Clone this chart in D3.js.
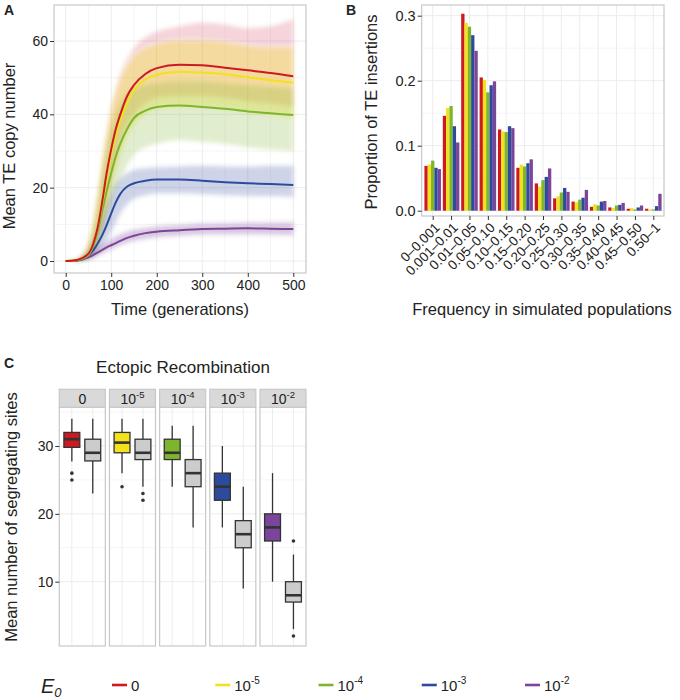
<!DOCTYPE html>
<html><head><meta charset="utf-8">
<script src="https://cdn.jsdelivr.net/npm/d3@7"></script>
<style>
body{margin:0;background:#fff}
text{font-family:"Liberation Sans",Arial,Helvetica,sans-serif;fill:#222}
</style>
</head><body>
<svg id="chart" width="680" height="700"></svg>
<script>
// ---------------- DATA ----------------
const e0Exponents = [null, -5, -4, -3, -2];          // E0 = 0, 10^-5, 10^-4, 10^-3, 10^-2
const e0Colors = ["#cc1a1f", "#f2e21b", "#7db52d", "#2d4b9d", "#7b459c"];

// Panel A: mean TE copy number vs time
const timePts = [0,25,50,60,70,80,90,100,110,120,135,150,175,200,250,300,350,400,450,500];
const meanE0_0  = [0,0.3,2,4.5,9,16,24,30.5,36,40,45,48,51,52.6,53.5,53.4,52.7,52,51.3,50.4];
const hiE0_0    = [0,0.6,5,10,18,27,35,42,47,51,55,58,61,62.5,64,65,64.5,63.5,64,66];
const loE0_0    = [0,0.05,0.8,2,4.5,9,15,21,27,32,37,40,43,44.5,45,45,44.5,43.5,43,42];
const meanE0_5  = [0,0.3,2,4.5,9,15.5,23,29.5,34.5,38.5,43,46.5,49.5,50.8,51.6,51.4,50.9,50.1,49.3,48.6];
const hiE0_5    = [0,0.6,5,10,18,27,35,41,46,49.5,53,55.5,58,59,60,60,59.5,58.5,58,58];
const loE0_5    = [0,0.05,0.8,2,4.5,9,14,20,25,29,34,37,40,41.5,42,42,41.5,40.5,40,39];
const meanE0_4  = [0,0.2,1.5,4,8,13.5,19,24,28.5,32,36,39,41,42,42.4,42,41.5,40.8,40.3,39.8];
const hiE0_4    = [0,0.5,4,9,16,24,31,36,40,43,45.5,47,48,48.5,49,49,48.5,48,47.5,47];
const loE0_4    = [0,0.05,0.6,1.5,3.5,7,11,15,19,22,26,29,31,32,33,32.5,32,31,30.5,30];
const meanE0_3  = [0,0.2,1.5,2.8,4.7,7,9.8,13,16,18.3,20.3,21.2,21.9,22.2,22.2,21.9,21.5,21.2,21,20.7];
const hiE0_3    = [0,0.4,3,5.5,8.5,12,15.5,18.5,21,22.5,24,24.8,25.3,25.5,25.8,26,25.8,25.7,26,26];
const loE0_3    = [0,0.05,0.5,1,2,3.5,5.5,8,10.5,13,15.5,17,18,18.5,18.5,18.3,18,17.8,17.7,17.5];
const meanE0_2  = [0,0.1,1,1.6,2.3,3,3.7,4.3,4.9,5.5,6.3,6.9,7.6,8,8.4,8.7,8.8,8.9,8.8,8.7];
const hiE0_2    = [0,0.3,1.8,2.6,3.4,4.3,5.2,6,6.7,7.3,8,8.5,9,9.4,9.8,10.2,10.3,10.4,10.5,10.6];
const loE0_2    = [0,0.02,0.5,0.9,1.4,2,2.6,3.2,3.8,4.3,5,5.5,6.1,6.5,6.9,7.2,7.3,7.3,7.2,7];
const meanSeries = [meanE0_0, meanE0_5, meanE0_4, meanE0_3, meanE0_2];
const hiSeries   = [hiE0_0, hiE0_5, hiE0_4, hiE0_3, hiE0_2];
const loSeries   = [loE0_0, loE0_5, loE0_4, loE0_3, loE0_2];
const timeTicks = [0,100,200,300,400,500];
const copyTicks = [0,20,40,60];

// Panel B: proportion of TE insertions per frequency class
const freqCats = ["0–0.001","0.001–0.01","0.01–0.05","0.05–0.10","0.10–0.15","0.15–0.20","0.20–0.25","0.25–0.30","0.30–0.35","0.35–0.40","0.40–0.45","0.45–0.50","0.50–1"];
const propE0_0 = [0.069,0.146,0.303,0.205,0.125,0.066,0.042,0.019,0.014,0.006,0.005,0.003,0.003];
const propE0_5 = [0.071,0.158,0.289,0.201,0.122,0.071,0.037,0.022,0.013,0.010,0.004,0.004,0.002];
const propE0_4 = [0.077,0.161,0.283,0.182,0.121,0.068,0.047,0.028,0.017,0.008,0.008,0.002,0.002];
const propE0_3 = [0.066,0.130,0.270,0.193,0.130,0.073,0.052,0.035,0.020,0.014,0.009,0.005,0.007];
const propE0_2 = [0.064,0.105,0.246,0.199,0.127,0.079,0.065,0.029,0.032,0.015,0.012,0.008,0.026];
const propSeries = [propE0_0, propE0_5, propE0_4, propE0_3, propE0_2];
const propTicks = [0, 0.1, 0.2, 0.3];

// Panel C: boxplots of mean number of segregating sites (coloured = E0 model, grey = comparison)
const colWhiskLo = [27.7, 26, 24, 18, 10];
const colQ1      = [29.8, 29, 28, 22, 16];
const colMedian  = [31, 30.5, 29, 24, 18];
const colQ3      = [32, 32, 31, 26, 20];
const colWhiskHi = [34, 34, 33, 30, 26];
const colOutliers = [[26, 25], [24], [], [], []];
const greyWhiskLo = [23, 24, 18, 9, 3];
const greyQ1      = [27.8, 28, 24, 15, 7];
const greyMedian  = [29, 29, 26, 17, 8];
const greyQ3      = [31, 31, 28, 19, 10];
const greyWhiskHi = [34, 34, 33, 24, 14];
const greyOutliers = [[], [23, 22], [], [], [16, 2]];
const segTicks = [10, 20, 30];

// ---------------- DRAWING ----------------
const svg = d3.select("#chart");
const frameCol = "#c8c8c8", gridMaj = "#ececec", gridMin = "#f5f5f5", tickCol = "#333";

const defs = svg.append("defs");
defs.append("filter").attr("id", "soft").attr("x", "-5%").attr("y", "-5%").attr("width", "110%").attr("height", "110%")
  .append("feGaussianBlur").attr("stdDeviation", 2.2);

function supLabel(sel, exp, baseSize, supSize, dySup) {
  if (exp === null) { sel.text("0"); return; }
  sel.append("tspan").text("10");
  sel.append("tspan").attr("font-size", supSize).attr("dy", dySup).text(String(exp));
}

function styleAxis(g, size) {
  g.select(".domain").remove();
  g.selectAll(".tick line").attr("stroke", tickCol).attr("stroke-width", 1);
  g.selectAll(".tick text").attr("font-size", size).attr("fill", "#333")
    .attr("font-family", '"Liberation Sans",Arial,sans-serif');
}

// ---- Panel A ----
const fA = {x0: 54, x1: 306, y0: 5, y1: 273};
const xA = d3.scaleLinear().domain([0, 500]).range([65.7, 293.3]);
const yA = d3.scaleLinear().domain([0, 60]).range([261, 41]);
const gA = svg.append("g");
[50,150,250,350,450].forEach(v => gA.append("line").attr("x1", xA(v)).attr("x2", xA(v)).attr("y1", fA.y0).attr("y2", fA.y1).attr("stroke", gridMin));
[10,30,50].forEach(v => gA.append("line").attr("y1", yA(v)).attr("y2", yA(v)).attr("x1", fA.x0).attr("x2", fA.x1).attr("stroke", gridMin));
timeTicks.forEach(v => gA.append("line").attr("x1", xA(v)).attr("x2", xA(v)).attr("y1", fA.y0).attr("y2", fA.y1).attr("stroke", gridMaj));
copyTicks.forEach(v => gA.append("line").attr("y1", yA(v)).attr("y2", yA(v)).attr("x1", fA.x0).attr("x2", fA.x1).attr("stroke", gridMaj));

const clipA = defs.append("clipPath").attr("id", "clipA");
clipA.append("rect").attr("x", fA.x0).attr("y", fA.y0).attr("width", fA.x1 - fA.x0).attr("height", fA.y1 - fA.y0);
const bandG = gA.append("g").attr("clip-path", "url(#clipA)").append("g").attr("filter", "url(#soft)");
const areaA = d3.area().x((d, i) => xA(timePts[i])).y0(d => yA(d[0])).y1(d => yA(d[1])).curve(d3.curveMonotoneX);
const bandOpacity = [0.17, 0.3, 0.24, 0.24, 0.3];
[0,1,2,3,4].forEach(k => {
  const pts = loSeries[k].map((lo, i) => [lo, hiSeries[k][i]]);
  bandG.append("path").attr("d", areaA(pts)).attr("fill", e0Colors[k]).attr("fill-opacity", bandOpacity[k]);
});
const lineA = d3.line().x((d, i) => xA(timePts[i])).y(d => yA(d)).curve(d3.curveMonotoneX);
[4,3,2,1,0].forEach(k => {
  gA.append("path").attr("d", lineA(meanSeries[k])).attr("fill", "none")
    .attr("stroke", e0Colors[k]).attr("stroke-width", 2);
});
gA.append("rect").attr("x", fA.x0).attr("y", fA.y0).attr("width", fA.x1 - fA.x0).attr("height", fA.y1 - fA.y0)
  .attr("fill", "none").attr("stroke", frameCol).attr("stroke-width", 1.2);
const axA_y = gA.append("g").attr("transform", `translate(${fA.x0},0)`)
  .call(d3.axisLeft(yA).tickValues(copyTicks).tickSize(4).tickPadding(2));
styleAxis(axA_y, 14);
const axA_x = gA.append("g").attr("transform", `translate(0,${fA.y1})`)
  .call(d3.axisBottom(xA).tickValues(timeTicks).tickSize(4).tickPadding(3));
styleAxis(axA_x, 14);
gA.append("text").attr("x", 180).attr("y", 315).attr("text-anchor", "middle").attr("font-size", 16.5).text("Time (generations)");
gA.append("text").attr("transform", "translate(15,146) rotate(-90)").attr("text-anchor", "middle").attr("font-size", 16.5).text("Mean TE copy number");
gA.append("text").attr("x", 4).attr("y", 14.5).attr("font-size", 14).attr("font-weight", "bold").text("A");

// ---- Panel B ----
const fB = {x0: 421.7, x1: 664, y0: 5, y1: 216};
const xB = d3.scalePoint().domain(freqCats).range([432.7, 653.3]);
const stepB = xB.step();
const innerB = d3.scaleBand().domain([0,1,2,3,4]).range([-0.45 * stepB, 0.45 * stepB]);
const yB = d3.scaleLinear().domain([0, 0.3]).range([210.7, 15.7]);
const gB = svg.append("g");
[0.05, 0.15, 0.25].forEach(v => gB.append("line").attr("y1", yB(v)).attr("y2", yB(v)).attr("x1", fB.x0).attr("x2", fB.x1).attr("stroke", gridMin));
propTicks.forEach(v => gB.append("line").attr("y1", yB(v)).attr("y2", yB(v)).attr("x1", fB.x0).attr("x2", fB.x1).attr("stroke", gridMaj));
freqCats.forEach(c => gB.append("line").attr("x1", xB(c)).attr("x2", xB(c)).attr("y1", fB.y0).attr("y2", fB.y1).attr("stroke", gridMaj));
propSeries.forEach((ser, k) => {
  gB.selectAll(null).data(ser).enter().append("rect")
    .attr("x", (d, i) => xB(freqCats[i]) + innerB(k))
    .attr("y", d => yB(d))
    .attr("width", innerB.bandwidth())
    .attr("height", d => yB(0) - yB(d))
    .attr("fill", e0Colors[k]);
});
gB.append("rect").attr("x", fB.x0).attr("y", fB.y0).attr("width", fB.x1 - fB.x0).attr("height", fB.y1 - fB.y0)
  .attr("fill", "none").attr("stroke", frameCol).attr("stroke-width", 1.2);
const axB_y = gB.append("g").attr("transform", `translate(${fB.x0},0)`)
  .call(d3.axisLeft(yB).tickValues(propTicks).tickFormat(d3.format(".1f")).tickSize(4).tickPadding(2));
styleAxis(axB_y, 14.5);
const axB_x = gB.append("g").attr("transform", `translate(0,${fB.y1})`)
  .call(d3.axisBottom(xB).tickSize(4).tickPadding(3));
styleAxis(axB_x, 13.5);
axB_x.selectAll(".tick text").attr("text-anchor", "end").attr("y", 0).attr("dy", "0.35em")
  .attr("transform", "translate(4,9) rotate(-45)");
gB.append("text").attr("x", 542).attr("y", 315).attr("text-anchor", "middle").attr("font-size", 16.5).text("Frequency in simulated populations");
gB.append("text").attr("transform", "translate(377,112) rotate(-90)").attr("text-anchor", "middle").attr("font-size", 16.5).text("Proportion of TE insertions");
gB.append("text").attr("x", 346).attr("y", 14.5).attr("font-size", 14).attr("font-weight", "bold").text("B");

// ---- Panel C ----
const gC = svg.append("g");
const facet = d3.scaleBand().domain([0,1,2,3,4]).range([59.3, 306]).paddingInner(0.0827).paddingOuter(0);
const fw = facet.bandwidth();
const inner = d3.scalePoint().domain(["E", "N"]).range([0, fw]).padding(0.6);
const boxW = 0.76 * inner.step();
const yC = d3.scaleLinear().domain([10, 30]).range([581.7, 446]);
const stripY0 = 389.3, stripY1 = 407.3, panelY1 = 646;
gC.append("text").attr("x", 183).attr("y", 373).attr("text-anchor", "middle").attr("font-size", 17).text("Ectopic Recombination");
gC.append("text").attr("x", 4).attr("y", 368).attr("font-size", 14).attr("font-weight", "bold").text("C");
gC.append("text").attr("transform", "translate(17,517) rotate(-90)").attr("text-anchor", "middle").attr("font-size", 16.5).text("Mean number of segregating sites");

function drawBox(g, cx, lo, q1, med, q3, hi, outs, fill) {
  g.append("line").attr("x1", cx).attr("x2", cx).attr("y1", yC(hi)).attr("y2", yC(q3)).attr("stroke", tickCol).attr("stroke-width", 1.3);
  g.append("line").attr("x1", cx).attr("x2", cx).attr("y1", yC(q1)).attr("y2", yC(lo)).attr("stroke", tickCol).attr("stroke-width", 1.3);
  g.append("rect").attr("x", cx - boxW / 2).attr("y", yC(q3)).attr("width", boxW).attr("height", yC(q1) - yC(q3))
    .attr("fill", fill).attr("stroke", tickCol).attr("stroke-width", 1.3);
  g.append("line").attr("x1", cx - boxW / 2).attr("x2", cx + boxW / 2).attr("y1", yC(med)).attr("y2", yC(med))
    .attr("stroke", tickCol).attr("stroke-width", 2.6);
  outs.forEach(o => g.append("circle").attr("cx", cx).attr("cy", yC(o)).attr("r", 1.8).attr("fill", tickCol));
}

[0,1,2,3,4].forEach(k => {
  const x0 = facet(k);
  const gp = gC.append("g");
  [15, 25, 35].forEach(v => gp.append("line").attr("x1", x0).attr("x2", x0 + fw).attr("y1", yC(v)).attr("y2", yC(v)).attr("stroke", gridMin));
  segTicks.forEach(v => gp.append("line").attr("x1", x0).attr("x2", x0 + fw).attr("y1", yC(v)).attr("y2", yC(v)).attr("stroke", gridMaj));
  ["E", "N"].forEach(c => gp.append("line").attr("x1", x0 + inner(c)).attr("x2", x0 + inner(c)).attr("y1", stripY1).attr("y2", panelY1).attr("stroke", gridMaj));
  drawBox(gp, x0 + inner("E"), colWhiskLo[k], colQ1[k], colMedian[k], colQ3[k], colWhiskHi[k], colOutliers[k], e0Colors[k]);
  drawBox(gp, x0 + inner("N"), greyWhiskLo[k], greyQ1[k], greyMedian[k], greyQ3[k], greyWhiskHi[k], greyOutliers[k], "#cccccc");
  gp.append("rect").attr("x", x0).attr("y", stripY1).attr("width", fw).attr("height", panelY1 - stripY1)
    .attr("fill", "none").attr("stroke", frameCol).attr("stroke-width", 1.2);
  gp.append("rect").attr("x", x0).attr("y", stripY0).attr("width", fw).attr("height", stripY1 - stripY0)
    .attr("fill", "#d9d9d9").attr("stroke", frameCol).attr("stroke-width", 1.2);
  const t = gp.append("text").attr("x", x0 + fw / 2).attr("y", 404).attr("text-anchor", "middle").attr("font-size", 14).attr("fill", "#333");
  supLabel(t, e0Exponents[k], 14, 9.5, -6);
});
const axC_y = gC.append("g").attr("transform", `translate(${facet(0)},0)`)
  .call(d3.axisLeft(yC).tickValues(segTicks).tickSize(4).tickPadding(2));
styleAxis(axC_y, 14);

// ---- Legend ----
const gL = svg.append("g");
const eText = gL.append("text").attr("x", 41).attr("y", 693).attr("font-size", 20).attr("font-style", "italic");
eText.append("tspan").text("E");
eText.append("tspan").attr("font-size", 13).attr("dy", 4).text("0");
const legX = d3.scaleLinear().domain([0, 4]).range([112, 525]);
[0,1,2,3,4].forEach(k => {
  const lx = legX(k);
  gL.append("line").attr("x1", lx).attr("x2", lx + 15).attr("y1", 685).attr("y2", 685)
    .attr("stroke", e0Colors[k]).attr("stroke-width", 2.6);
  const t = gL.append("text").attr("x", lx + 19).attr("y", 690.5).attr("font-size", 15).attr("fill", "#333");
  supLabel(t, e0Exponents[k], 15, 10, -7);
});
</script>
</body></html>
